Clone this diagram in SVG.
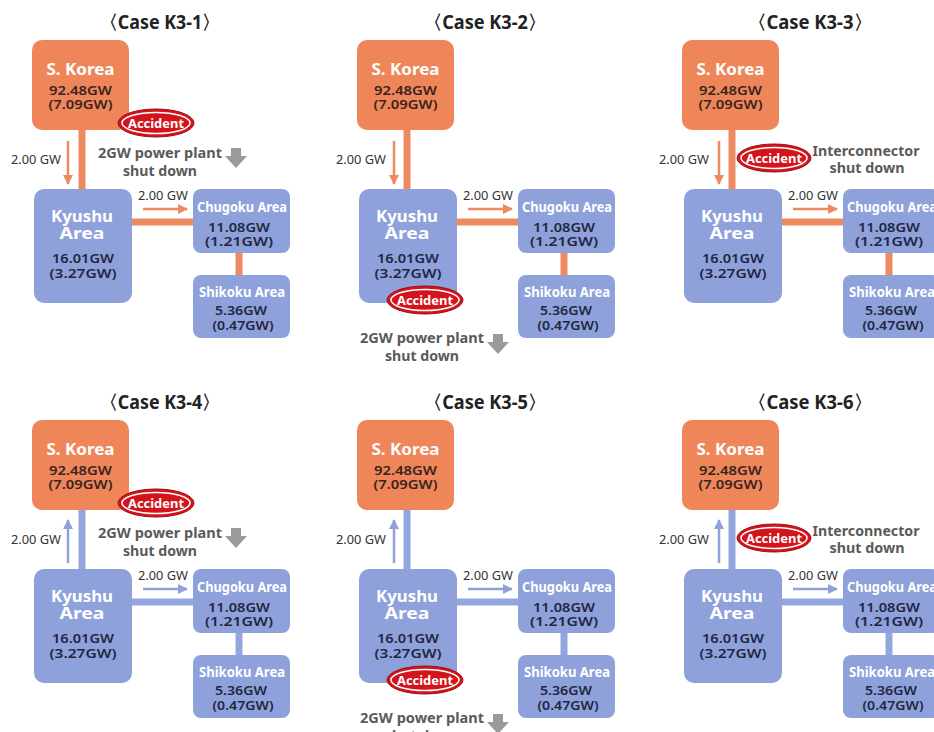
<svg xmlns="http://www.w3.org/2000/svg" width="934" height="732" viewBox="0 0 934 732">
<style>
text{font-family:"Noto Sans","Liberation Sans",sans-serif;text-anchor:middle}
.title{font-size:19px;font-weight:700;fill:#222}
.kor{fill:#EE865A}
.blu{fill:#8EA1DB}
.hd{font-size:16px;font-weight:700;fill:#fff}
.hds{font-size:15px;font-weight:700;fill:#fff}
.num{font-size:13px;font-weight:600;fill:#23263f}
.numk{font-size:13px;font-weight:600;fill:#3a2320}
.lbl{font-size:12px;fill:#333}
.note{font-size:14px;font-weight:700;fill:#5a5a5a}
.acc{font-size:13px;font-weight:700;fill:#fff}
.co{stroke:#EE8A60;stroke-width:7;fill:none}
.cb{stroke:#94A6DE;stroke-width:7;fill:none}
.ao{stroke:#EE8A60;stroke-width:2.5;fill:none}
.ab{stroke:#8EA1DB;stroke-width:2.5;fill:none}
.gray{fill:#9a9a9a}
.ell{fill:#D3141C;stroke:#9e0f14;stroke-width:1}
.ring{fill:none;stroke:#fff;stroke-width:1.5}
</style>
<defs>
<marker id="mo" viewBox="0 0 10 10" refX="9" refY="5" markerWidth="10" markerHeight="10" markerUnits="userSpaceOnUse" orient="auto"><path d="M0,0 L10,5 L0,10 z" fill="#EE8A60"/></marker>
<marker id="mb" viewBox="0 0 10 10" refX="9" refY="5" markerWidth="10" markerHeight="10" markerUnits="userSpaceOnUse" orient="auto"><path d="M0,0 L10,5 L0,10 z" fill="#8EA1DB"/></marker>
</defs>

<!-- ===== Panel K3-1 ===== -->
<g id="panel-k3-1">
<text class="title" x="160" y="29" textLength="120" lengthAdjust="spacingAndGlyphs">〈Case K3-1〉</text>
<g id="conn-k3-1">
<line class="co" x1="82" y1="128" x2="82" y2="191"/>
<line class="co" x1="130" y1="222" x2="195" y2="222"/>
<line class="co" x1="239" y1="251" x2="239" y2="277"/>
<line class="ao" x1="68" y1="141" x2="68" y2="184" marker-end="url(#mo)"/>
<line class="ao" x1="143" y1="209" x2="187" y2="209" marker-end="url(#mo)"/>
<text class="lbl" x="36" y="164" textLength="50" lengthAdjust="spacingAndGlyphs">2.00 GW</text>
<text class="lbl" x="163" y="200" textLength="50" lengthAdjust="spacingAndGlyphs">2.00 GW</text>
</g>
<g id="k31-korea"><rect class="kor" x="32" y="40" width="97" height="90" rx="10"/>
<text class="hd" x="80.5" y="75" textLength="68" lengthAdjust="spacingAndGlyphs">S. Korea</text>
<text class="numk" x="80.5" y="95" textLength="63" lengthAdjust="spacingAndGlyphs">92.48GW</text>
<text class="numk" x="80.5" y="109" textLength="64" lengthAdjust="spacingAndGlyphs">(7.09GW)</text></g>
<g id="k31-kyushu"><rect class="blu" x="34" y="189" width="98" height="114" rx="10"/>
<text class="hd" x="82" y="222" textLength="62" lengthAdjust="spacingAndGlyphs">Kyushu</text>
<text class="hd" x="82" y="239" textLength="45" lengthAdjust="spacingAndGlyphs">Area</text>
<text class="num" x="83" y="263" textLength="62" lengthAdjust="spacingAndGlyphs">16.01GW</text>
<text class="num" x="83" y="278" textLength="67" lengthAdjust="spacingAndGlyphs">(3.27GW)</text></g>
<g id="k31-chugoku"><rect class="blu" x="193" y="189" width="97" height="64" rx="8"/>
<text class="hds" x="242" y="212" textLength="90" lengthAdjust="spacingAndGlyphs">Chugoku Area</text>
<text class="num" x="239" y="232" textLength="62" lengthAdjust="spacingAndGlyphs">11.08GW</text>
<text class="num" x="239" y="246" textLength="68" lengthAdjust="spacingAndGlyphs">(1.21GW)</text></g>
<g id="k31-shikoku"><rect class="blu" x="193" y="275" width="97" height="63" rx="8"/>
<text class="hds" x="242" y="297" textLength="86" lengthAdjust="spacingAndGlyphs">Shikoku Area</text>
<text class="num" x="241" y="315" textLength="52" lengthAdjust="spacingAndGlyphs">5.36GW</text>
<text class="num" x="243" y="330" textLength="61" lengthAdjust="spacingAndGlyphs">(0.47GW)</text></g>
<g id="k31-accident"><ellipse class="ell" cx="156" cy="123" rx="38" ry="14"/><ellipse class="ring" cx="156" cy="123" rx="34" ry="10.5"/>
<text class="acc" x="156" y="128" textLength="56" lengthAdjust="spacingAndGlyphs">Accident</text></g>
<g id="k31-shutdown">
<text class="note" x="160" y="158" textLength="124" lengthAdjust="spacingAndGlyphs">2GW power plant</text>
<text class="note" x="160" y="176" textLength="74" lengthAdjust="spacingAndGlyphs">shut down</text>
<polygon class="gray" points="231,148 241,148 241,156 247,156 236,168 225,156 231,156"/></g>
</g>

<!-- ===== Panel K3-2 ===== -->
<g id="panel-k3-2" transform="translate(325,0)">
<text class="title" x="160" y="29" textLength="122" lengthAdjust="spacingAndGlyphs">〈Case K3-2〉</text>
<g id="conn-k3-2">
<line class="co" x1="82" y1="128" x2="82" y2="191"/>
<line class="co" x1="130" y1="222" x2="195" y2="222"/>
<line class="co" x1="239" y1="251" x2="239" y2="277"/>
<line class="ao" x1="69" y1="141" x2="69" y2="184" marker-end="url(#mo)"/>
<line class="ao" x1="143" y1="209" x2="187" y2="209" marker-end="url(#mo)"/>
<text class="lbl" x="36" y="164" textLength="50" lengthAdjust="spacingAndGlyphs">2.00 GW</text>
<text class="lbl" x="163" y="200" textLength="50" lengthAdjust="spacingAndGlyphs">2.00 GW</text>
</g>
<g id="k32-korea"><rect class="kor" x="32" y="40" width="97" height="90" rx="10"/>
<text class="hd" x="80.5" y="75" textLength="68" lengthAdjust="spacingAndGlyphs">S. Korea</text>
<text class="numk" x="80.5" y="95" textLength="63" lengthAdjust="spacingAndGlyphs">92.48GW</text>
<text class="numk" x="80.5" y="109" textLength="64" lengthAdjust="spacingAndGlyphs">(7.09GW)</text></g>
<g id="k32-kyushu"><rect class="blu" x="34" y="189" width="98" height="114" rx="10"/>
<text class="hd" x="82" y="222" textLength="62" lengthAdjust="spacingAndGlyphs">Kyushu</text>
<text class="hd" x="82" y="239" textLength="45" lengthAdjust="spacingAndGlyphs">Area</text>
<text class="num" x="83" y="263" textLength="62" lengthAdjust="spacingAndGlyphs">16.01GW</text>
<text class="num" x="83" y="278" textLength="67" lengthAdjust="spacingAndGlyphs">(3.27GW)</text></g>
<g id="k32-chugoku"><rect class="blu" x="193" y="189" width="97" height="64" rx="8"/>
<text class="hds" x="242" y="212" textLength="90" lengthAdjust="spacingAndGlyphs">Chugoku Area</text>
<text class="num" x="239" y="232" textLength="62" lengthAdjust="spacingAndGlyphs">11.08GW</text>
<text class="num" x="239" y="246" textLength="68" lengthAdjust="spacingAndGlyphs">(1.21GW)</text></g>
<g id="k32-shikoku"><rect class="blu" x="193" y="275" width="97" height="63" rx="8"/>
<text class="hds" x="242" y="297" textLength="86" lengthAdjust="spacingAndGlyphs">Shikoku Area</text>
<text class="num" x="241" y="315" textLength="52" lengthAdjust="spacingAndGlyphs">5.36GW</text>
<text class="num" x="243" y="330" textLength="61" lengthAdjust="spacingAndGlyphs">(0.47GW)</text></g>
<g id="k32-accident"><ellipse class="ell" cx="100" cy="300" rx="38" ry="14"/><ellipse class="ring" cx="100" cy="300" rx="34" ry="10.5"/>
<text class="acc" x="100" y="305" textLength="56" lengthAdjust="spacingAndGlyphs">Accident</text></g>
<g id="k32-shutdown">
<text class="note" x="97" y="343" textLength="124" lengthAdjust="spacingAndGlyphs">2GW power plant</text>
<text class="note" x="97" y="361" textLength="74" lengthAdjust="spacingAndGlyphs">shut down</text>
<polygon class="gray" points="168,334 178,334 178,342 184,342 173,354 162,342 168,342"/></g>
</g>

<!-- ===== Panel K3-3 ===== -->
<g id="panel-k3-3" transform="translate(650,0)">
<text class="title" x="160" y="29" textLength="124" lengthAdjust="spacingAndGlyphs">〈Case K3-3〉</text>
<g id="conn-k3-3">
<line class="co" x1="82" y1="128" x2="82" y2="191"/>
<line class="co" x1="130" y1="222" x2="195" y2="222"/>
<line class="co" x1="239" y1="251" x2="239" y2="277"/>
<line class="ao" x1="69" y1="141" x2="69" y2="184" marker-end="url(#mo)"/>
<line class="ao" x1="143" y1="209" x2="187" y2="209" marker-end="url(#mo)"/>
<text class="lbl" x="34" y="164" textLength="50" lengthAdjust="spacingAndGlyphs">2.00 GW</text>
<text class="lbl" x="163" y="200" textLength="50" lengthAdjust="spacingAndGlyphs">2.00 GW</text>
</g>
<g id="k33-korea"><rect class="kor" x="32" y="40" width="97" height="90" rx="10"/>
<text class="hd" x="80.5" y="75" textLength="68" lengthAdjust="spacingAndGlyphs">S. Korea</text>
<text class="numk" x="80.5" y="95" textLength="63" lengthAdjust="spacingAndGlyphs">92.48GW</text>
<text class="numk" x="80.5" y="109" textLength="64" lengthAdjust="spacingAndGlyphs">(7.09GW)</text></g>
<g id="k33-kyushu"><rect class="blu" x="34" y="189" width="98" height="114" rx="10"/>
<text class="hd" x="82" y="222" textLength="62" lengthAdjust="spacingAndGlyphs">Kyushu</text>
<text class="hd" x="82" y="239" textLength="45" lengthAdjust="spacingAndGlyphs">Area</text>
<text class="num" x="83" y="263" textLength="62" lengthAdjust="spacingAndGlyphs">16.01GW</text>
<text class="num" x="83" y="278" textLength="67" lengthAdjust="spacingAndGlyphs">(3.27GW)</text></g>
<g id="k33-chugoku"><rect class="blu" x="193" y="189" width="97" height="64" rx="8"/>
<text class="hds" x="242" y="212" textLength="90" lengthAdjust="spacingAndGlyphs">Chugoku Area</text>
<text class="num" x="239" y="232" textLength="62" lengthAdjust="spacingAndGlyphs">11.08GW</text>
<text class="num" x="239" y="246" textLength="68" lengthAdjust="spacingAndGlyphs">(1.21GW)</text></g>
<g id="k33-shikoku"><rect class="blu" x="193" y="275" width="97" height="63" rx="8"/>
<text class="hds" x="242" y="297" textLength="86" lengthAdjust="spacingAndGlyphs">Shikoku Area</text>
<text class="num" x="241" y="315" textLength="52" lengthAdjust="spacingAndGlyphs">5.36GW</text>
<text class="num" x="243" y="330" textLength="61" lengthAdjust="spacingAndGlyphs">(0.47GW)</text></g>
<g id="k33-accident"><ellipse class="ell" cx="124" cy="158" rx="37" ry="14"/><ellipse class="ring" cx="124" cy="158" rx="33" ry="10.5"/>
<text class="acc" x="124" y="163" textLength="56" lengthAdjust="spacingAndGlyphs">Accident</text></g>
<g id="k33-shutdown">
<text class="note" x="216" y="156" textLength="107" lengthAdjust="spacingAndGlyphs">Interconnector</text>
<text class="note" x="217" y="173" textLength="75" lengthAdjust="spacingAndGlyphs">shut down</text></g>
</g>

<!-- ===== Panel K3-4 ===== -->
<g id="panel-k3-4" transform="translate(0,380)">
<text class="title" x="160" y="29" textLength="120" lengthAdjust="spacingAndGlyphs">〈Case K3-4〉</text>
<g id="conn-k3-4">
<line class="cb" x1="82" y1="128" x2="82" y2="191"/>
<line class="cb" x1="130" y1="222" x2="195" y2="222"/>
<line class="cb" x1="239" y1="251" x2="239" y2="277"/>
<line class="ab" x1="68" y1="183" x2="68" y2="140" marker-end="url(#mb)"/>
<line class="ab" x1="143" y1="209" x2="187" y2="209" marker-end="url(#mb)"/>
<text class="lbl" x="36" y="164" textLength="50" lengthAdjust="spacingAndGlyphs">2.00 GW</text>
<text class="lbl" x="163" y="200" textLength="50" lengthAdjust="spacingAndGlyphs">2.00 GW</text>
</g>
<g id="k34-korea"><rect class="kor" x="32" y="40" width="97" height="90" rx="10"/>
<text class="hd" x="80.5" y="75" textLength="68" lengthAdjust="spacingAndGlyphs">S. Korea</text>
<text class="numk" x="80.5" y="95" textLength="63" lengthAdjust="spacingAndGlyphs">92.48GW</text>
<text class="numk" x="80.5" y="109" textLength="64" lengthAdjust="spacingAndGlyphs">(7.09GW)</text></g>
<g id="k34-kyushu"><rect class="blu" x="34" y="189" width="98" height="114" rx="10"/>
<text class="hd" x="82" y="222" textLength="62" lengthAdjust="spacingAndGlyphs">Kyushu</text>
<text class="hd" x="82" y="239" textLength="45" lengthAdjust="spacingAndGlyphs">Area</text>
<text class="num" x="83" y="263" textLength="62" lengthAdjust="spacingAndGlyphs">16.01GW</text>
<text class="num" x="83" y="278" textLength="67" lengthAdjust="spacingAndGlyphs">(3.27GW)</text></g>
<g id="k34-chugoku"><rect class="blu" x="193" y="189" width="97" height="64" rx="8"/>
<text class="hds" x="242" y="212" textLength="90" lengthAdjust="spacingAndGlyphs">Chugoku Area</text>
<text class="num" x="239" y="232" textLength="62" lengthAdjust="spacingAndGlyphs">11.08GW</text>
<text class="num" x="239" y="246" textLength="68" lengthAdjust="spacingAndGlyphs">(1.21GW)</text></g>
<g id="k34-shikoku"><rect class="blu" x="193" y="275" width="97" height="63" rx="8"/>
<text class="hds" x="242" y="297" textLength="86" lengthAdjust="spacingAndGlyphs">Shikoku Area</text>
<text class="num" x="241" y="315" textLength="52" lengthAdjust="spacingAndGlyphs">5.36GW</text>
<text class="num" x="243" y="330" textLength="61" lengthAdjust="spacingAndGlyphs">(0.47GW)</text></g>
<g id="k34-accident"><ellipse class="ell" cx="156" cy="123" rx="38" ry="14"/><ellipse class="ring" cx="156" cy="123" rx="34" ry="10.5"/>
<text class="acc" x="156" y="128" textLength="56" lengthAdjust="spacingAndGlyphs">Accident</text></g>
<g id="k34-shutdown">
<text class="note" x="160" y="158" textLength="124" lengthAdjust="spacingAndGlyphs">2GW power plant</text>
<text class="note" x="160" y="176" textLength="74" lengthAdjust="spacingAndGlyphs">shut down</text>
<polygon class="gray" points="231,148 241,148 241,156 247,156 236,168 225,156 231,156"/></g>
</g>

<!-- ===== Panel K3-5 ===== -->
<g id="panel-k3-5" transform="translate(325,380)">
<text class="title" x="160" y="29" textLength="122" lengthAdjust="spacingAndGlyphs">〈Case K3-5〉</text>
<g id="conn-k3-5">
<line class="cb" x1="82" y1="128" x2="82" y2="191"/>
<line class="cb" x1="130" y1="222" x2="195" y2="222"/>
<line class="cb" x1="239" y1="251" x2="239" y2="277"/>
<line class="ab" x1="69" y1="183" x2="69" y2="140" marker-end="url(#mb)"/>
<line class="ab" x1="143" y1="209" x2="187" y2="209" marker-end="url(#mb)"/>
<text class="lbl" x="36" y="164" textLength="50" lengthAdjust="spacingAndGlyphs">2.00 GW</text>
<text class="lbl" x="163" y="200" textLength="50" lengthAdjust="spacingAndGlyphs">2.00 GW</text>
</g>
<g id="k35-korea"><rect class="kor" x="32" y="40" width="97" height="90" rx="10"/>
<text class="hd" x="80.5" y="75" textLength="68" lengthAdjust="spacingAndGlyphs">S. Korea</text>
<text class="numk" x="80.5" y="95" textLength="63" lengthAdjust="spacingAndGlyphs">92.48GW</text>
<text class="numk" x="80.5" y="109" textLength="64" lengthAdjust="spacingAndGlyphs">(7.09GW)</text></g>
<g id="k35-kyushu"><rect class="blu" x="34" y="189" width="98" height="114" rx="10"/>
<text class="hd" x="82" y="222" textLength="62" lengthAdjust="spacingAndGlyphs">Kyushu</text>
<text class="hd" x="82" y="239" textLength="45" lengthAdjust="spacingAndGlyphs">Area</text>
<text class="num" x="83" y="263" textLength="62" lengthAdjust="spacingAndGlyphs">16.01GW</text>
<text class="num" x="83" y="278" textLength="67" lengthAdjust="spacingAndGlyphs">(3.27GW)</text></g>
<g id="k35-chugoku"><rect class="blu" x="193" y="189" width="97" height="64" rx="8"/>
<text class="hds" x="242" y="212" textLength="90" lengthAdjust="spacingAndGlyphs">Chugoku Area</text>
<text class="num" x="239" y="232" textLength="62" lengthAdjust="spacingAndGlyphs">11.08GW</text>
<text class="num" x="239" y="246" textLength="68" lengthAdjust="spacingAndGlyphs">(1.21GW)</text></g>
<g id="k35-shikoku"><rect class="blu" x="193" y="275" width="97" height="63" rx="8"/>
<text class="hds" x="242" y="297" textLength="86" lengthAdjust="spacingAndGlyphs">Shikoku Area</text>
<text class="num" x="241" y="315" textLength="52" lengthAdjust="spacingAndGlyphs">5.36GW</text>
<text class="num" x="243" y="330" textLength="61" lengthAdjust="spacingAndGlyphs">(0.47GW)</text></g>
<g id="k35-accident"><ellipse class="ell" cx="100" cy="300" rx="38" ry="14"/><ellipse class="ring" cx="100" cy="300" rx="34" ry="10.5"/>
<text class="acc" x="100" y="305" textLength="56" lengthAdjust="spacingAndGlyphs">Accident</text></g>
<g id="k35-shutdown">
<text class="note" x="97" y="343" textLength="124" lengthAdjust="spacingAndGlyphs">2GW power plant</text>
<text class="note" x="97" y="361" textLength="74" lengthAdjust="spacingAndGlyphs">shut down</text>
<polygon class="gray" points="168,334 178,334 178,342 184,342 173,354 162,342 168,342"/></g>
</g>

<!-- ===== Panel K3-6 ===== -->
<g id="panel-k3-6" transform="translate(650,380)">
<text class="title" x="160" y="29" textLength="124" lengthAdjust="spacingAndGlyphs">〈Case K3-6〉</text>
<g id="conn-k3-6">
<line class="cb" x1="82" y1="128" x2="82" y2="191"/>
<line class="cb" x1="130" y1="222" x2="195" y2="222"/>
<line class="cb" x1="239" y1="251" x2="239" y2="277"/>
<line class="ab" x1="69" y1="183" x2="69" y2="140" marker-end="url(#mb)"/>
<line class="ab" x1="143" y1="209" x2="187" y2="209" marker-end="url(#mb)"/>
<text class="lbl" x="34" y="164" textLength="50" lengthAdjust="spacingAndGlyphs">2.00 GW</text>
<text class="lbl" x="163" y="200" textLength="50" lengthAdjust="spacingAndGlyphs">2.00 GW</text>
</g>
<g id="k36-korea"><rect class="kor" x="32" y="40" width="97" height="90" rx="10"/>
<text class="hd" x="80.5" y="75" textLength="68" lengthAdjust="spacingAndGlyphs">S. Korea</text>
<text class="numk" x="80.5" y="95" textLength="63" lengthAdjust="spacingAndGlyphs">92.48GW</text>
<text class="numk" x="80.5" y="109" textLength="64" lengthAdjust="spacingAndGlyphs">(7.09GW)</text></g>
<g id="k36-kyushu"><rect class="blu" x="34" y="189" width="98" height="114" rx="10"/>
<text class="hd" x="82" y="222" textLength="62" lengthAdjust="spacingAndGlyphs">Kyushu</text>
<text class="hd" x="82" y="239" textLength="45" lengthAdjust="spacingAndGlyphs">Area</text>
<text class="num" x="83" y="263" textLength="62" lengthAdjust="spacingAndGlyphs">16.01GW</text>
<text class="num" x="83" y="278" textLength="67" lengthAdjust="spacingAndGlyphs">(3.27GW)</text></g>
<g id="k36-chugoku"><rect class="blu" x="193" y="189" width="97" height="64" rx="8"/>
<text class="hds" x="242" y="212" textLength="90" lengthAdjust="spacingAndGlyphs">Chugoku Area</text>
<text class="num" x="239" y="232" textLength="62" lengthAdjust="spacingAndGlyphs">11.08GW</text>
<text class="num" x="239" y="246" textLength="68" lengthAdjust="spacingAndGlyphs">(1.21GW)</text></g>
<g id="k36-shikoku"><rect class="blu" x="193" y="275" width="97" height="63" rx="8"/>
<text class="hds" x="242" y="297" textLength="86" lengthAdjust="spacingAndGlyphs">Shikoku Area</text>
<text class="num" x="241" y="315" textLength="52" lengthAdjust="spacingAndGlyphs">5.36GW</text>
<text class="num" x="243" y="330" textLength="61" lengthAdjust="spacingAndGlyphs">(0.47GW)</text></g>
<g id="k36-accident"><ellipse class="ell" cx="124" cy="158" rx="37" ry="14"/><ellipse class="ring" cx="124" cy="158" rx="33" ry="10.5"/>
<text class="acc" x="124" y="163" textLength="56" lengthAdjust="spacingAndGlyphs">Accident</text></g>
<g id="k36-shutdown">
<text class="note" x="216" y="156" textLength="107" lengthAdjust="spacingAndGlyphs">Interconnector</text>
<text class="note" x="217" y="173" textLength="75" lengthAdjust="spacingAndGlyphs">shut down</text></g>
</g>
</svg>
